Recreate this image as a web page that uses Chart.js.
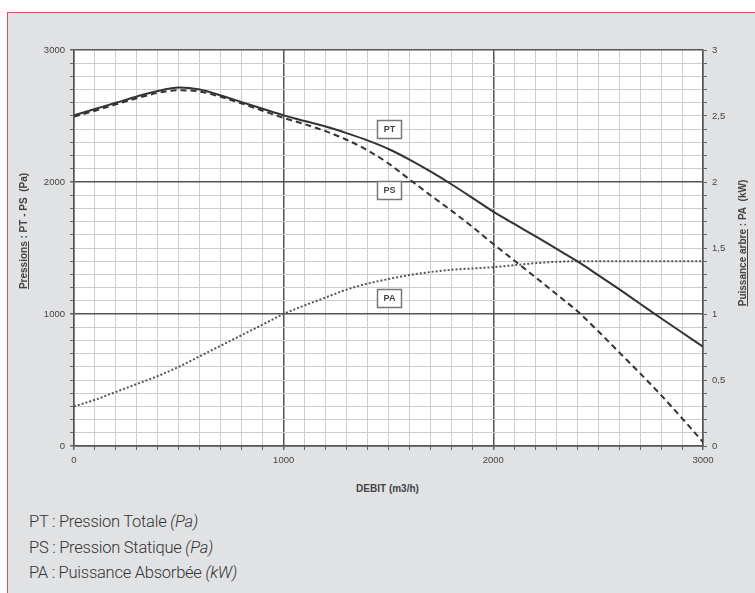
<!DOCTYPE html>
<html lang="fr">
<head>
<meta charset="UTF-8">
<title>Courbe ventilateur</title>
<script src="https://cdn.jsdelivr.net/npm/chart.js"></script>
<style>
    html, body { margin: 0; padding: 0; background: #fff; }
    body { width: 755px; height: 593px; position: relative; overflow: hidden; font-family: "Liberation Sans", Arial, sans-serif; }
    .panel { position: absolute; left: 7px; top: 12px; width: 800px; height: 640px; background: #e1e2e4;
             border-left: 1.5px solid #d4545e; border-top: 1.5px solid #d4545e; }
    #chart { position: absolute; left: 0; top: 0; }
    .ytitle { position: absolute; width: 220px; text-align: center; font-weight: bold; font-size: 10px;
              color: #444; transform: rotate(-90deg); white-space: nowrap; line-height: 12px; }
    .xtitle { position: absolute; left: 300px; top: 483px; width: 175px; text-align: center;
              font-weight: bold; font-size: 10px; color: #444; }
    .legend { position: absolute; left: 29px; top: 509px; font-family: Roboto, sans-serif; font-weight: 300;
              font-size: 16.5px; letter-spacing: -0.25px; color: #333; line-height: 25.5px; }
    .legend i { font-style: italic; }
</style>
</head>
<body>
<div class="panel"></div>
<canvas id="chart" width="755" height="480"></canvas>
<div class="ytitle" style="left:-86px; top:225px;"><u>Pressions</u> : PT - PS&nbsp; (Pa)</div>
<div class="ytitle" style="left:633px; top:237px;"><u>Puissance arbre</u> : PA&nbsp; (kW)</div>
<div class="xtitle">DEBIT (m3/h)</div>
<div class="legend">
    PT : Pression Totale <i>(Pa)</i><br>
    PS : Pression Statique <i>(Pa)</i><br>
    PA : Puissance Absorbée <i>(kW)</i>
</div>
<script>
// debit (m3/h)
const debit = [0, 100, 200, 300, 400, 500, 600, 700, 800, 900, 1000,
    1100, 1200, 1300, 1400, 1500, 1600, 1700, 1800, 1900, 2000,
    2100, 2200, 2300, 2400, 2500, 2600, 2700, 2800, 2900, 3000];
// pression totale (Pa)
const pt = [2505, 2553, 2600, 2648, 2690, 2715, 2700, 2655, 2605, 2555, 2505,
    2462, 2420, 2370, 2315, 2250, 2170, 2080, 1983, 1880, 1775,
    1682, 1590, 1495, 1400, 1295, 1188, 1078, 968, 860, 752];
// pression statique (Pa)
const ps = [2495, 2540, 2588, 2635, 2675, 2695, 2685, 2645, 2595, 2540, 2485,
    2438, 2385, 2320, 2240, 2140, 2020, 1900, 1783, 1660, 1530,
    1405, 1280, 1152, 1022, 870, 710, 550, 385, 210, 30];
// puissance absorbee (kW)
const pa = [0.30, 0.35, 0.41, 0.47, 0.53, 0.60, 0.68, 0.76, 0.84, 0.92, 1.00,
    1.065, 1.125, 1.185, 1.23, 1.265, 1.295, 1.318, 1.335, 1.345, 1.355,
    1.37, 1.385, 1.395, 1.40, 1.40, 1.40, 1.40, 1.40, 1.40, 1.40];

// boxed curve labels: name, debit, pressure
const tagNames = ['PT', 'PS', 'PA'];
const tagX = [1500, 1500, 1500];
const tagY = [2400, 1940, 1125];

const toXY = arr => debit.map((d, i) => ({ x: d, y: arr[i] }));

const isMajor = v => Math.round(v) % 1000 === 0;

const plotBg = {
    id: 'plotBg',
    beforeDraw(chart) {
        const a = chart.chartArea, c = chart.ctx;
        c.save();
        c.fillStyle = '#fff';
        c.fillRect(a.left, a.top, a.right - a.left, a.bottom - a.top);
        c.restore();
    }
};

const tags = {
    id: 'tags',
    afterDatasetsDraw(chart) {
        const c = chart.ctx, sx = chart.scales.x, sy = chart.scales.y;
        c.save();
        tagNames.forEach((t, i) => {
            const cx = Math.round(sx.getPixelForValue(tagX[i])) + 0.5;
            const cy = Math.round(sy.getPixelForValue(tagY[i])) + 0.5;
            c.fillStyle = '#fff';
            c.strokeStyle = '#777';
            c.lineWidth = 1.5;
            c.fillRect(cx - 12, cy - 9, 24, 18);
            c.strokeRect(cx - 12, cy - 9, 24, 18);
            c.fillStyle = '#444';
            c.font = 'bold 9px "Liberation Sans", Arial, sans-serif';
            c.textAlign = 'center';
            c.textBaseline = 'middle';
            c.fillText(t, cx, cy + 0.5);
        });
        c.restore();
    }
};

const tickFont = { family: '"Liberation Sans", Arial, sans-serif', size: 9.5 };

new Chart(document.getElementById('chart'), {
    type: 'line',
    data: {
        datasets: [
            { label: 'PT', data: toXY(pt), yAxisID: 'y', borderColor: '#333', borderWidth: 2,
              pointRadius: 0, cubicInterpolationMode: 'monotone' },
            { label: 'PS', data: toXY(ps), yAxisID: 'y', borderColor: '#333', borderWidth: 2,
              borderDash: [6, 4], pointRadius: 0, cubicInterpolationMode: 'monotone' },
            { label: 'PA', data: toXY(pa), yAxisID: 'y2', borderColor: '#555', borderWidth: 2,
              borderDash: [2, 2], pointRadius: 0, cubicInterpolationMode: 'monotone' }
        ]
    },
    options: {
        responsive: false,
        animation: false,
        devicePixelRatio: 1,
        layout: { padding: { top: 50, left: 0, right: 0, bottom: 0 } },
        plugins: { legend: { display: false }, tooltip: { enabled: false } },
        scales: {
            x: {
                type: 'linear', min: 0, max: 3000,
                afterFit: s => { s.height = 34; },
                border: { color: '#555', width: 1.5 },
                grid: {
                    color: c => isMajor(c.tick.value) ? '#555' : '#cdcdcd',
                    lineWidth: c => isMajor(c.tick.value) ? 1.5 : 1,
                    tickColor: '#666', tickLength: 4
                },
                ticks: {
                    stepSize: 100, autoSkip: false, maxRotation: 0, padding: 5,
                    color: '#444', font: tickFont,
                    callback: v => isMajor(v) ? String(v) : ''
                }
            },
            y: {
                type: 'linear', position: 'left', min: 0, max: 3000,
                afterFit: s => { s.width = 74; },
                border: { color: '#555', width: 1.5 },
                grid: {
                    color: c => isMajor(c.tick.value) ? '#555' : '#cdcdcd',
                    lineWidth: c => isMajor(c.tick.value) ? 1.5 : 1,
                    tickColor: '#666', tickLength: 4
                },
                ticks: {
                    stepSize: 100, autoSkip: false, padding: 5,
                    color: '#444', font: tickFont,
                    callback: v => isMajor(v) ? String(v) : ''
                }
            },
            y2: {
                type: 'linear', position: 'right', min: 0, max: 3,
                afterFit: s => { s.width = 52; },
                border: { color: '#555', width: 1.5 },
                grid: { drawOnChartArea: false, tickColor: '#666', tickLength: 4 },
                ticks: {
                    stepSize: 0.1, autoSkip: false, padding: 5,
                    color: '#444', font: tickFont,
                    callback: v => Math.round(v * 10) % 5 === 0 ? String(Math.round(v * 10) / 10).replace('.', ',') : ''
                }
            }
        }
    },
    plugins: [plotBg, tags]
});
</script>
</body>
</html>
